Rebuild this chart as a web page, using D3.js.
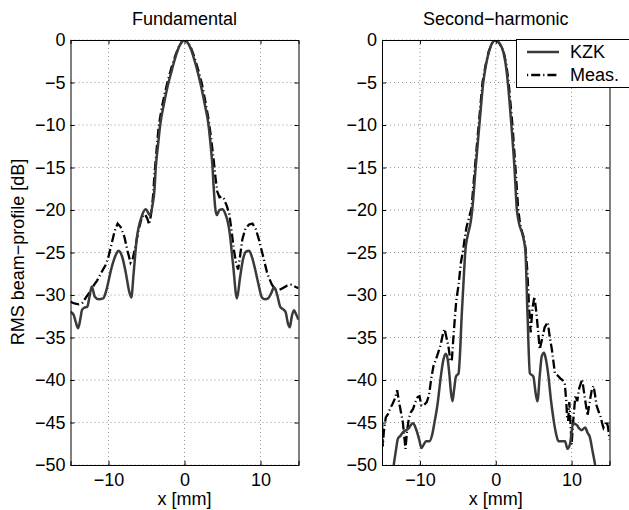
<!DOCTYPE html>
<html>
<head>
<meta charset="utf-8">
<script src="https://cdn.jsdelivr.net/npm/d3@7/dist/d3.min.js"></script>
<style>
  body { margin: 0; background: #fff; }
  text { font-family: "Liberation Sans", Arial, sans-serif; fill: #000; }
</style>
</head>
<body>
<div id="content"></div>
<script>
// Screen dimensions
var w = 629;
var h = 510;
var fs = "18px";

// Tick labels
var xTicks = [-10, 0, 10];
var yTicks = [0, -5, -10, -15, -20, -25, -30, -35, -40, -45, -50];
var titles = ["Fundamental", "Second\u2212harmonic"];
var legendLabels = ["KZK", "Meas."];

// Fundamental, KZK simulation [x mm, dB]
var fundKzk = [
  [-15, -32], [-14.6, -32.3], [-14.3, -33.2], [-14.0, -33.9], [-13.7, -32.8], [-13.5, -31.8],
  [-13.2, -31.5], [-12.8, -31.4], [-12.5, -30.2], [-12.2, -29.0], [-11.8, -30.2], [-11.3, -30.5],
  [-10.7, -30.4], [-10.3, -29.5], [-9.6, -26.8], [-9.0, -25.2], [-8.7, -24.8], [-8.2, -25.5],
  [-7.7, -27.5], [-7.3, -29.5], [-7.0, -30.3], [-6.7, -27.5], [-6.3, -23.5], [-5.65, -20.8],
  [-5.1, -19.9], [-4.55, -20.6], [-4.2, -19.4], [-3.95, -17.6], [-3.78, -15], [-3.5, -12.5],
  [-3.2, -10], [-2.7, -7.5], [-2.1, -5], [-1.8, -4.0], [-1.35, -2.5], [-0.9, -1.2], [-0.4, -0.3],
  [0, 0], [0.4, -0.3], [0.9, -1.2], [1.35, -2.5], [1.8, -4.0], [2.07, -5], [2.65, -7.5],
  [3.16, -10], [3.45, -12.5], [3.69, -15], [3.85, -17.5], [4.05, -19.8], [4.25, -20.6],
  [4.6, -20.0], [5.0, -19.9], [5.3, -20.3], [5.9, -22.4], [6.4, -26.5], [6.9, -30.4],
  [7.3, -28.0], [7.7, -25.8], [8.1, -24.9], [8.5, -24.8], [8.9, -25.6], [9.3, -27.0],
  [9.7, -28.6], [10.2, -30.3], [10.6, -30.5], [11.0, -30.4], [11.4, -29.8], [11.8, -29.1],
  [12.2, -30.0], [12.6, -31.4], [13.0, -31.7], [13.3, -32.0], [13.6, -33.3], [13.85, -33.8],
  [14.1, -32.6], [14.4, -31.8], [14.7, -32.3], [15, -32.9]
];

// Fundamental, measured
var fundMeas = [
  [-15, -30.8], [-14.5, -31.0], [-13.9, -31.1], [-13.4, -30.9], [-12.9, -30.2], [-12.4, -29.6],
  [-11.9, -28.8], [-11.5, -28.3], [-10.9, -27.3], [-10.4, -26.5], [-10.0, -25.5], [-9.6, -24.0],
  [-9.2, -22.5], [-8.8, -21.6], [-8.4, -22.0], [-7.9, -23.2], [-7.5, -24.8], [-7.1, -26.2],
  [-6.8, -25.7], [-6.4, -24.0], [-6.0, -22.2], [-5.6, -20.8], [-5.2, -20.5], [-4.9, -21.0],
  [-4.65, -21.7], [-4.4, -20.5], [-4.15, -18.5], [-3.95, -15.8], [-3.7, -13.2], [-3.4, -10.2],
  [-3.0, -8.0], [-2.6, -6.3], [-2.2, -4.8], [-1.7, -3.2], [-1.2, -1.8], [-0.7, -0.7], [-0.3, -0.1],
  [0, 0], [0.4, -0.2], [0.8, -0.8], [1.3, -2.0], [1.8, -3.5], [2.3, -5.2], [2.8, -7.5],
  [3.2, -9.5], [3.5, -11.6], [3.8, -13.8], [4.05, -16.0], [4.3, -17.8], [4.6, -18.5],
  [4.9, -18.4], [5.2, -18.7], [5.6, -19.6], [5.9, -20.5], [6.2, -22.5], [6.5, -24.7],
  [6.8, -26.3], [7.06, -27.0], [7.3, -25.5], [7.6, -23.5], [8.0, -22.2], [8.5, -21.7],
  [8.95, -21.6], [9.4, -22.3], [9.8, -23.5], [10.3, -25.3], [10.9, -27.5], [11.5, -28.8],
  [12.0, -29.4], [12.5, -29.4], [12.9, -29.2], [13.5, -28.9], [14.0, -28.8], [14.5, -29.0],
  [15.0, -29.2]
];

// Second harmonic, KZK simulation
var harmKzk = [
  [-13.8, -53], [-13.45, -50], [-13.2, -48.5], [-12.9, -46.9], [-12.6, -46.6], [-12.2, -46.1],
  [-11.8, -45.9], [-11.5, -45.7], [-11.2, -45.3], [-10.9, -45.1], [-10.5, -45.8], [-10.1, -47.0],
  [-9.8, -48.0], [-9.5, -47.6], [-9.2, -47.2], [-8.75, -47.2], [-8.4, -46.5], [-8.1, -45.1],
  [-7.7, -43.0], [-7.2, -39.3], [-6.9, -37.6], [-6.6, -36.9], [-6.35, -37.5], [-6.1, -39.5],
  [-5.9, -41.5], [-5.7, -42.5], [-5.5, -41.2], [-5.25, -39.6], [-4.9, -39.2], [-4.75, -37.5],
  [-4.5, -32.6], [-4.25, -28.5], [-4.0, -24.7], [-3.7, -23.0], [-3.3, -21.4], [-3.08, -19.8],
  [-2.64, -14.9], [-2.16, -10.0], [-1.63, -4.9], [-1.3, -3.0], [-0.9, -1.4], [-0.5, -0.4],
  [0, 0], [0.5, -0.4], [1.0, -1.4], [1.3, -2.8], [1.58, -4.9], [2.06, -10.0], [2.46, -14.9],
  [2.77, -19.8], [3.03, -21.4], [3.56, -23.0], [3.9, -24.7], [4.2, -32.6], [4.5, -39.2],
  [4.96, -39.6], [5.25, -41.5], [5.5, -42.5], [5.8, -39.5], [6.07, -37.2], [6.37, -36.8],
  [6.6, -37.5], [6.9, -39.2], [7.3, -42.5], [7.7, -45.1], [8.0, -46.5], [8.26, -47.2],
  [8.7, -47.2], [9.14, -47.2], [9.45, -48.1], [9.8, -47.5], [10.2, -45.1], [10.5, -45.2],
  [10.7, -45.3], [11.0, -45.7], [11.3, -45.9], [11.8, -45.6], [12.1, -46.2], [12.4, -46.7],
  [12.75, -48.3], [13.1, -50], [13.5, -53]
];

// Second harmonic, measured
var harmMeas = [
  [-15.0, -45.0], [-14.9, -47.8], [-14.75, -46.0], [-14.5, -44.4], [-14.2, -44.0], [-13.9, -43.3],
  [-13.6, -42.8], [-13.3, -42.2], [-13.0, -41.2], [-12.75, -42.6], [-12.5, -43.8], [-12.25, -45.0],
  [-12.05, -46.8], [-11.9, -48.1], [-11.7, -46.0], [-11.45, -44.5], [-11.2, -43.8], [-10.9, -43.4],
  [-10.6, -42.6], [-10.3, -42.0], [-10.05, -41.9], [-9.8, -43.0], [-9.5, -43.0], [-9.1, -42.6],
  [-8.8, -41.8], [-8.5, -39.8], [-8.2, -38.3], [-7.9, -37.6], [-7.6, -36.8], [-7.25, -35.8],
  [-6.95, -34.5], [-6.75, -34.0], [-6.5, -35.0], [-6.25, -36.0], [-6.0, -37.6], [-5.8, -37.8],
  [-5.6, -35.2], [-5.4, -32.8], [-5.2, -30.6], [-4.9, -28.8], [-4.6, -26.2], [-4.3, -24.7],
  [-4.1, -23.4], [-3.85, -22.0], [-3.55, -21.0], [-3.2, -19.8], [-2.75, -15.0], [-2.25, -10.0],
  [-1.75, -5.0], [-1.35, -3.0], [-0.95, -1.4], [-0.5, -0.4], [0, 0], [0.5, -0.4], [1.05, -1.4],
  [1.4, -2.9], [1.7, -5.0], [2.2, -10.0], [2.6, -15.0], [2.95, -19.8], [3.2, -21.6], [3.45, -22.5],
  [3.75, -23.4], [3.95, -24.7], [4.15, -27.0], [4.4, -31.5], [4.6, -34.4], [4.85, -31.5],
  [5.1, -30.2], [5.35, -32.0], [5.6, -34.4], [5.8, -36.4], [6.1, -35.2], [6.45, -33.8],
  [6.86, -33.2], [7.1, -34.8], [7.4, -36.4], [7.8, -39.2], [8.2, -39.5], [8.5, -39.8],
  [8.8, -40.0], [9.1, -40.4], [9.3, -42.5], [9.4, -44.3], [9.55, -44.8], [9.7, -42.6],
  [9.85, -45.0], [10.0, -47.6], [10.2, -45.0], [10.5, -41.8], [10.75, -42.5], [11.0, -41.0],
  [11.4, -39.9], [11.6, -41.2], [11.8, -42.4], [12.1, -44.2], [12.4, -42.5], [12.7, -41.0],
  [12.9, -40.7], [13.1, -41.8], [13.3, -43.0], [13.6, -43.8], [13.8, -44.2], [14.0, -45.0],
  [14.2, -45.6], [14.4, -45.2], [14.6, -44.9], [14.8, -45.5], [15.0, -47.0]
];

var panels = [
  { title: titles[0], left: 70.5, right: 298.5, kzk: fundKzk, meas: fundMeas },
  { title: titles[1], left: 382, right: 609.5, kzk: harmKzk, meas: harmMeas }
];
var plotTop = 40, plotBottom = 465;
var kzkColor = "#3a3a3a";
var measDash = "9,3,1.2,3";

// Create svg canvas
var svg = d3.select("#content")
  .append("svg")
  .attr("width", w)
  .attr("height", h);

svg.append("rect")
  .attr("width", w)
  .attr("height", h)
  .attr("fill", "white");

var y = d3.scaleLinear().domain([-50, 0]).range([plotBottom, plotTop]);
var minusFmt = function(d) { return d < 0 ? "\u2212" + Math.abs(d) : d; };

panels.forEach(function(p, i) {
  var x = d3.scaleLinear().domain([-15, 15]).range([p.left, p.right]);
  var g = svg.append("g");

  // clip path for the curves
  svg.append("clipPath")
    .attr("id", "clip" + i)
    .append("rect")
    .attr("x", p.left)
    .attr("y", plotTop)
    .attr("width", p.right - p.left)
    .attr("height", plotBottom - plotTop);

  // dotted grid
  g.selectAll(".gx")
    .data(xTicks)
    .enter()
    .append("line")
    .attr("x1", function(d) { return x(d); })
    .attr("x2", function(d) { return x(d); })
    .attr("y1", plotTop)
    .attr("y2", plotBottom)
    .attr("stroke", "#7a7a7a")
    .attr("stroke-width", 0.8)
    .attr("stroke-dasharray", "1,3");
  g.selectAll(".gy")
    .data(yTicks)
    .enter()
    .append("line")
    .attr("x1", p.left)
    .attr("x2", p.right)
    .attr("y1", function(d) { return y(d); })
    .attr("y2", function(d) { return y(d); })
    .attr("stroke", "#7a7a7a")
    .attr("stroke-width", 0.8)
    .attr("stroke-dasharray", "1,3");

  // curves
  var line = d3.line()
    .x(function(d) { return x(d[0]); })
    .y(function(d) { return y(d[1]); });
  var curves = g.append("g").attr("clip-path", "url(#clip" + i + ")");
  curves.append("path")
    .datum(p.meas)
    .attr("d", line)
    .attr("fill", "none")
    .attr("stroke", "#000")
    .attr("stroke-width", 2.3)
    .attr("stroke-dasharray", measDash);
  curves.append("path")
    .datum(p.kzk)
    .attr("d", line.curve(d3.curveMonotoneX))
    .attr("fill", "none")
    .attr("stroke", kzkColor)
    .attr("stroke-width", 2.5);

  // axes (ticks inward, like matlab)
  var axB = g.append("g")
    .attr("transform", "translate(0," + plotBottom + ")")
    .call(d3.axisBottom(x).tickValues(xTicks).tickSize(-4).tickPadding(8).tickFormat(minusFmt));
  var axL = g.append("g")
    .attr("transform", "translate(" + p.left + ",0)")
    .call(d3.axisLeft(y).tickValues(yTicks).tickSize(-4).tickPadding(5).tickFormat(minusFmt));
  var axT = g.append("g")
    .attr("transform", "translate(0," + plotTop + ")")
    .call(d3.axisTop(x).tickValues(xTicks).tickSize(-4).tickFormat(""));
  var axR = g.append("g")
    .attr("transform", "translate(" + p.right + ",0)")
    .call(d3.axisRight(y).tickValues(yTicks).tickSize(-4).tickFormat(""));
  [axB, axL, axT, axR].forEach(function(a) {
    a.select(".domain").attr("stroke", "#000").attr("stroke-width", 1);
    a.selectAll(".tick line").attr("stroke", "#000");
    a.selectAll("text")
      .attr("font-size", fs)
      .attr("font-family", "Liberation Sans, Arial, sans-serif")
      .attr("fill", "#000");
  });
  axB.selectAll("text").attr("dy", "0.71em");

  g.append("text")
    .attr("x", (p.left + p.right) / 2)
    .attr("y", 25)
    .attr("text-anchor", "middle")
    .attr("font-size", fs)
    .text(p.title);

  g.append("text")
    .attr("x", (p.left + p.right) / 2)
    .attr("y", 505)
    .attr("text-anchor", "middle")
    .attr("font-size", fs)
    .text("x [mm]");
});

// y label
svg.append("text")
  .attr("transform", "translate(24,252) rotate(-90)")
  .attr("text-anchor", "middle")
  .attr("font-size", fs)
  .text("RMS beam\u2212profile [dB]");

// legend
var lg = svg.append("g");
lg.append("rect")
  .attr("x", 516.5)
  .attr("y", 39.5)
  .attr("width", 130)
  .attr("height", 48)
  .attr("fill", "white")
  .attr("stroke", "#000")
  .attr("stroke-width", 1);
legendLabels.forEach(function(name, i) {
  var ly = 52 + i * 23;
  lg.append("line")
    .attr("x1", 527)
    .attr("x2", 559)
    .attr("y1", ly)
    .attr("y2", ly)
    .attr("stroke", i === 0 ? kzkColor : "#000")
    .attr("stroke-width", i === 0 ? 2.5 : 2.3)
    .attr("stroke-dasharray", i === 0 ? null : "1.2,3,9,3");
  lg.append("text")
    .attr("x", 570)
    .attr("y", ly + 6)
    .attr("font-size", fs)
    .text(name);
});
</script>
</body>
</html>
